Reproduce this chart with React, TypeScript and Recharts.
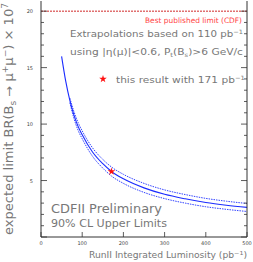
import React from 'react';
import { ComposedChart, Line, Scatter, XAxis, YAxis, ReferenceLine, Symbols } from 'recharts';

const lumi = [50, 60, 70, 80, 90, 100, 125, 150, 171, 200, 250, 300, 350, 400, 450, 500];
const expected = [16.0, 13.8, 12.1, 10.8, 9.8, 9.05, 7.53, 6.49, 5.8, 5.15, 4.35, 3.78, 3.38, 3.05, 2.81, 2.62];
const upperBand = [null, null, 12.3, 11.1, 10.15, 9.4, 7.9, 6.87, 6.2, 5.55, 4.75, 4.17, 3.76, 3.42, 3.17, 2.97];
const lowerBand = [null, null, 11.9, 10.5, 9.45, 8.7, 7.15, 6.1, 5.4, 4.75, 3.95, 3.4, 3.0, 2.68, 2.45, 2.26];
const resultLumi = [171];
const resultLimit = [5.8];
const bestPublished = 20;
const xTicks = [0, 100, 200, 300, 400, 500];
const yTicks = Array.from({ length: 21 }, (_, i) => i);

const data = lumi.map((l, i) => ({ lumi: l, expected: expected[i], upper: upperBand[i], lower: lowerBand[i] }));
const starData = resultLumi.map((l, i) => ({ lumi: l, result: resultLimit[i] }));

const FONT = '"DejaVu Sans", sans-serif';
const AX = '#333';
const TXT = '#777';

const LeftTick = (props: any) => {
  const { x, y, payload } = props;
  const v = payload.value;
  const major = v % 5 === 0;
  return (
    <g>
      <line x1={x} x2={x + (major ? 6 : 3)} y1={y} y2={y} stroke={AX} strokeWidth={0.8} />
      {major && v > 0 && (
        <text x={x - 8} y={y} dy={2} textAnchor="end" fontSize={5} fill="#444" fontFamily={FONT}>{v}</text>
      )}
    </g>
  );
};

const RightTick = (props: any) => {
  const { x, y, payload } = props;
  const v = payload.value;
  const major = v % 5 === 0;
  return <line x1={x} x2={x - (major ? 6 : 3)} y1={y} y2={y} stroke={AX} strokeWidth={0.8} />;
};

const BottomTick = (props: any) => {
  const { x, y, payload } = props;
  return (
    <g>
      <line x1={x} x2={x} y1={y} y2={y - 5} stroke={AX} strokeWidth={0.8} />
      <text x={x} y={y + 8} textAnchor="middle" fontSize={5} fill="#444" fontFamily={FONT}>{payload.value}</text>
    </g>
  );
};

export default function App() {
  return (
    <div style={{ position: 'absolute', left: 0, top: 0, width: 253, height: 262, background: '#fff' }}>
      <ComposedChart width={253} height={262} data={data} margin={{ top: 1, right: 0, bottom: 0, left: 0 }}>
        <XAxis dataKey="lumi" type="number" domain={[0, 500]} ticks={xTicks} tickSize={0} tickMargin={0}
          tick={<BottomTick />} height={25} axisLine={{ stroke: AX, strokeWidth: 1 }} tickLine={false} interval={0} />
        <XAxis xAxisId="top" orientation="top" dataKey="lumi" type="number" domain={[0, 500]} height={0}
          tick={false} tickLine={false} axisLine={{ stroke: AX, strokeWidth: 1 }} />
        <YAxis type="number" domain={[0, 20.9]} allowDataOverflow ticks={yTicks} width={41} tickSize={0} tickMargin={0}
          tick={<LeftTick />} tickLine={false} axisLine={{ stroke: AX, strokeWidth: 1 }} interval={0} />
        <YAxis yAxisId="r" orientation="right" type="number" domain={[0, 20.9]} allowDataOverflow ticks={yTicks} width={6}
          tickSize={0} tickMargin={0} tick={<RightTick />} tickLine={false} axisLine={{ stroke: AX, strokeWidth: 1 }} interval={0} />
        <ReferenceLine y={bestPublished} stroke="#cc1111" strokeWidth={0.9} strokeDasharray="2 1" />
        <Line dataKey="upper" type="monotone" stroke="#3344ff" strokeWidth={1} strokeDasharray="1.5 1" dot={false} isAnimationActive={false} connectNulls />
        <Line dataKey="lower" type="monotone" stroke="#3344ff" strokeWidth={1} strokeDasharray="1.5 1" dot={false} isAnimationActive={false} connectNulls />
        <Line dataKey="expected" type="monotone" stroke="#1a2bff" strokeWidth={1.1} dot={false} isAnimationActive={false} />
        <Scatter data={starData} dataKey="result" fill="#ff1010" shape={(p: any) => <Symbols type="star" size={18} cx={p.cx} cy={p.cy} fill="#ff1010" />} isAnimationActive={false} />
      </ComposedChart>
      <svg width={253} height={262} style={{ position: 'absolute', left: 0, top: 0, pointerEvents: 'none' }} fontFamily={FONT}>
        <text x={242} y={23} textAnchor="end" fontSize={7.5} fill="#ff4444" textLength={97} lengthAdjust="spacingAndGlyphs">Best published limit (CDF)</text>
        <text x={243} y={37} textAnchor="end" fontSize={9.3} fill={TXT} textLength={173} lengthAdjust="spacingAndGlyphs">
          Extrapolations based on 110 pb<tspan dy={-3.5} fontSize={6}>−1</tspan>
        </text>
        <text x={243} y={55} textAnchor="end" fontSize={9.3} fill={TXT} textLength={173} lengthAdjust="spacingAndGlyphs">
          using |η(μ)|&lt;0.6, P<tspan dy={2} fontSize={6}>t</tspan><tspan dy={-2}>(B</tspan><tspan dy={2} fontSize={6}>s</tspan><tspan dy={-2}>)&gt;6 GeV/c</tspan>
        </text>
        <Symbols type="star" size={18} cx={103} cy={79} fill="#ff1010" />
        <text x={116} y={83} fontSize={9.3} fill={TXT} textLength={129} lengthAdjust="spacingAndGlyphs">
          this result with 171 pb<tspan dy={-3.5} fontSize={6}>−1</tspan>
        </text>
        <text x={51} y={213} fontSize={12.5} fill={TXT} textLength={111} lengthAdjust="spacingAndGlyphs">CDFII Preliminary</text>
        <text x={51} y={227} fontSize={10} fill={TXT} textLength={116} lengthAdjust="spacingAndGlyphs">90% CL Upper Limits</text>
        <text x={247} y={258} textAnchor="end" fontSize={8} fill={TXT} textLength={158} lengthAdjust="spacingAndGlyphs">
          RunII Integrated Luminosity (pb<tspan dy={-3} fontSize={5.5}>−1</tspan><tspan dy={3}>)</tspan>
        </text>
        <text transform="translate(13,119) rotate(-90)" textAnchor="middle" fontSize={11.5} fill={TXT} textLength={232} lengthAdjust="spacingAndGlyphs">
          expected limit BR(B<tspan dy={3} fontSize={8}>s</tspan><tspan dy={-3}> → μ</tspan><tspan dy={-5} fontSize={8}>+</tspan><tspan dy={5}>μ</tspan><tspan dy={-5} fontSize={8}>−</tspan><tspan dy={5}>) × 10</tspan><tspan dy={-5} fontSize={8}>7</tspan>
        </text>
      </svg>
    </div>
  );
}
